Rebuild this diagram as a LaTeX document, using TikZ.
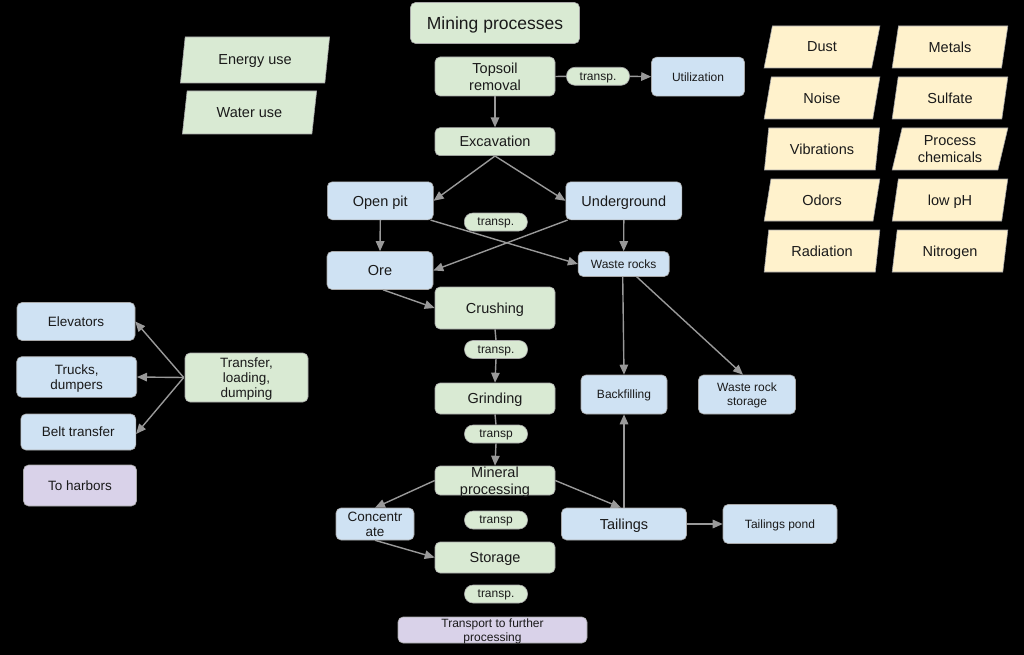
\documentclass[tikz,border=0pt]{standalone}
\usepackage{fontspec}
\setmainfont{Liberation Sans}
\usetikzlibrary{arrows.meta,shapes.geometric}
\definecolor{grn}{HTML}{D9EAD3}
\definecolor{blu}{HTML}{CFE2F3}
\definecolor{pur}{HTML}{D9D2E9}
\definecolor{yel}{HTML}{FFF2CC}
\definecolor{arrgray}{HTML}{999999}
\definecolor{edge}{HTML}{A8A8A8}
\definecolor{ink}{HTML}{1A1A1A}
\tikzset{
  box/.style={rectangle, rounded corners=5pt, draw=edge, line width=0.6pt, inner sep=0pt,
    text depth=0pt, align=center, text=ink, font=\fontsize{14.5}{17}\selectfont},
  sz/.style 2 args={minimum width=#1pt, minimum height=#2pt},
  gbox/.style={box, fill=grn},
  bbox/.style={box, fill=blu},
  pbox/.style={box, fill=pur},
  small/.style={font=\fontsize{12}{14}\selectfont},
  mid/.style={font=\fontsize{13.5}{15}\selectfont},
  pill/.style={box, fill=grn, rounded corners=8.5pt, minimum width=63pt, minimum height=18pt, font=\fontsize{12}{14}\selectfont},
  para/.style={trapezium, trapezium left angle=76, trapezium right angle=104, trapezium stretches=true,
    draw=edge, line width=0.6pt, inner sep=0pt, text depth=0pt, align=center, text=ink, font=\fontsize{14.5}{17}\selectfont},
  ypara/.style={para, fill=yel, minimum width=116pt, minimum height=42pt},
  arr/.style={draw=arrgray, line width=1.4pt, -{Triangle[length=10pt,width=8.5pt]}},
  ln/.style={draw=arrgray, line width=1.4pt},
}
\begin{document}
\begin{tikzpicture}[x=1pt,y=-1pt]
\useasboundingbox[fill=black] (0,0) rectangle (1024,655);
% central column
\node[gbox, sz={169}{41}, font=\fontsize{17.5}{20}\selectfont] (title) at (495,23) {Mining processes};
\node[gbox, sz={120}{39}] (top) at (495,76.5) {Topsoil\\removal};
\node[pill] (t1) at (598,76.3) {transp.};
\node[bbox, sz={93}{39}, small] (util) at (698,76.7) {Utilization};
\node[gbox, sz={120}{28}] (exc) at (495,141.7) {Excavation};
\node[bbox, sz={106}{38}] (open) at (380.3,200.8) {Open pit};
\node[bbox, sz={116}{38}] (under) at (623.8,200.8) {Underground};
\node[pill] (t2) at (495.8,222) {transp.};
\node[bbox, sz={106}{38}] (ore) at (380,270.5) {Ore};
\node[bbox, sz={91}{25}, small] (waste) at (623.7,264) {Waste rocks};
\node[gbox, sz={120}{42}] (crush) at (495,308) {Crushing};
\node[pill] (t3) at (496,349.5) {transp.};
\node[gbox, sz={120}{31}] (grind) at (495,398.5) {Grinding};
\node[pill] (t4) at (496,434) {transp};
\node[gbox, sz={120}{29}, inner ysep=-1.5pt] (minp) at (495,480.5) {Mineral\\processing};
\node[bbox, sz={78}{32}, mid] (conc) at (375,524) {Concentr\\ate};
\node[pill] (t5) at (496,520) {transp};
\node[gbox, sz={120}{31}] (stor) at (495,557.5) {Storage};
\node[pill] (t6) at (496,594) {transp.};
\node[pbox, sz={189}{26}, small, inner ysep=-1pt] (trans) at (492.5,630) {Transport to further\\processing};
\node[bbox, sz={125}{32}] (tail) at (624,524) {Tailings};
\node[bbox, sz={114}{39}, small] (pond) at (780,524) {Tailings pond};
\node[bbox, sz={86}{39}, small] (back) at (624,394.5) {Backfilling};
\node[bbox, sz={97}{39}, small] (wrs) at (747,394.5) {Waste rock\\storage};
% left
\node[para, fill=grn, minimum width=150pt, minimum height=46pt] (energy) at (255,60) {Energy use};
\node[para, fill=grn, minimum width=135pt, minimum height=43pt] (water) at (249.5,112.5) {Water use};
\node[bbox, sz={118}{38}, mid] (elev) at (76,321.5) {Elevators};
\node[bbox, sz={120}{40.6}, mid] (truck) at (76.7,377) {Trucks,\\dumpers};
\node[bbox, sz={115}{36}, mid] (belt) at (78.3,432) {Belt transfer};
\node[pbox, sz={113}{41}, mid] (harb) at (80,485.5) {To harbors};
\node[gbox, sz={123}{49}, mid] (tld) at (246.5,377.5) {Transfer,\\loading,\\dumping};
% right impacts
\node[ypara] (dust) at (822,47) {Dust};
\node[ypara] (noise) at (822,98) {Noise};
\node[ypara] (vib) at (822,149) {Vibrations};
\node[ypara] (odor) at (822,200) {Odors};
\node[ypara] (rad) at (822,251) {Radiation};
\node[ypara] (metal) at (950,47) {Metals};
\node[ypara] (sulf) at (950,98) {Sulfate};
\node[ypara] (chem) at (950,149) {Process\\chemicals};
\node[ypara] (ph) at (950,200) {low pH};
\node[ypara] (nitro) at (950,251) {Nitrogen};
% connectors
\draw[ln] (top.east) -- (t1.west);
\draw[arr] (t1.east) -- (util.west);
\draw[arr] (top.south) -- (exc.north);
\draw[arr] (exc.south) -- (open.east);
\draw[arr] (exc.south) -- (under.west);
\draw[arr] (open.south) -- (ore.north);
\draw[arr] ([xshift=-3pt]open.south east) -- (waste.west);
\draw[arr] ([xshift=2pt]under.south west) -- (ore.east);
\draw[arr] (under.south) -- (waste.north);
\draw[arr] ([xshift=3pt]ore.south) -- (crush.west);
\draw[arr] ([xshift=-1pt]waste.south) -- (back.north);
\draw[arr] ([xshift=13pt]waste.south) -- ([xshift=-4pt]wrs.north);
\draw[ln] (crush.south) -- (t3.north);
\draw[arr] (t3.south) -- (grind.north);
\draw[ln] (grind.south) -- (t4.north);
\draw[arr] (t4.south) -- (minp.north);
\draw[arr] (minp.west) -- (conc.north);
\draw[arr] (minp.east) -- ([xshift=-3pt]tail.north);
\draw[arr] (conc.south) -- (stor.west);
\draw[arr] (tail.north) -- (back.south);
\draw[arr] (tail.east) -- (pond.west);
\draw[arr] ([xshift=-1pt]tld.west) -- (elev.east);
\draw[arr] ([xshift=-1pt]tld.west) -- (truck.east);
\draw[arr] ([xshift=-1pt]tld.west) -- ([yshift=-2pt]belt.east);
\end{tikzpicture}
\end{document}
